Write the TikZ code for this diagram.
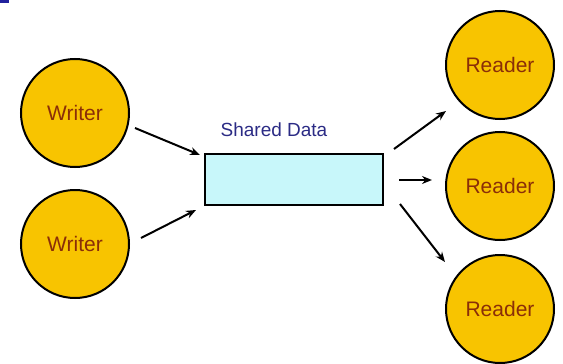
\documentclass[tikz,border=0pt]{standalone}
\usepackage{fontspec}
\setmainfont{Liberation Sans}
\usetikzlibrary{arrows.meta}
\definecolor{gold}{HTML}{F8C400}
\definecolor{rtext}{HTML}{8A2E08}
\definecolor{cyanfill}{HTML}{C8F7FA}
\definecolor{navy}{HTML}{2B2B85}
\begin{document}
\begin{tikzpicture}[x=1pt,y=-1pt,
  actor/.style={circle,draw=black,line width=2pt,fill=gold,minimum size=108pt,inner sep=0pt,text=rtext,font=\fontsize{21}{25}\selectfont},
  store/.style={rectangle,draw=black,line width=2pt,fill=cyanfill,minimum width=178pt,minimum height=51pt,inner sep=0pt},
  flow/.style={line width=2pt,-{Stealth[length=10pt,width=8pt]}}]
\useasboundingbox (0,0) rectangle (563,364);
\fill[white] (0,0) rectangle (563,364);
\fill[navy!80!blue] (0,0) rectangle (9,3);
\node[actor] (w1) at (75,113) {Writer};
\node[actor] (w2) at (75,244) {Writer};
\node[store] (sd) at (293.5,179.5) {};
\node[text=navy,font=\fontsize{19}{23}\selectfont] (lbl) at (274,130) {Shared Data};
\node[actor] (r1) at (500,65) {Reader};
\node[actor] (r2) at (500,186) {Reader};
\node[actor] (r3) at (500,309) {Reader};
\coordinate (a1s) at (135,128); \coordinate (a1e) at (200,155);
\coordinate (a2s) at (141,238); \coordinate (a2e) at (196,210);
\coordinate (b1s) at (394,149); \coordinate (b1e) at (446,111);
\coordinate (b2s) at (399,180); \coordinate (b2e) at (432,180);
\coordinate (b3s) at (400,204); \coordinate (b3e) at (445,262);
\draw[flow] (a1s) -- (a1e);
\draw[flow] (a2s) -- (a2e);
\draw[flow] (b1s) -- (b1e);
\draw[flow] (b2s) -- (b2e);
\draw[flow] (b3s) -- (b3e);
\end{tikzpicture}
\end{document}
